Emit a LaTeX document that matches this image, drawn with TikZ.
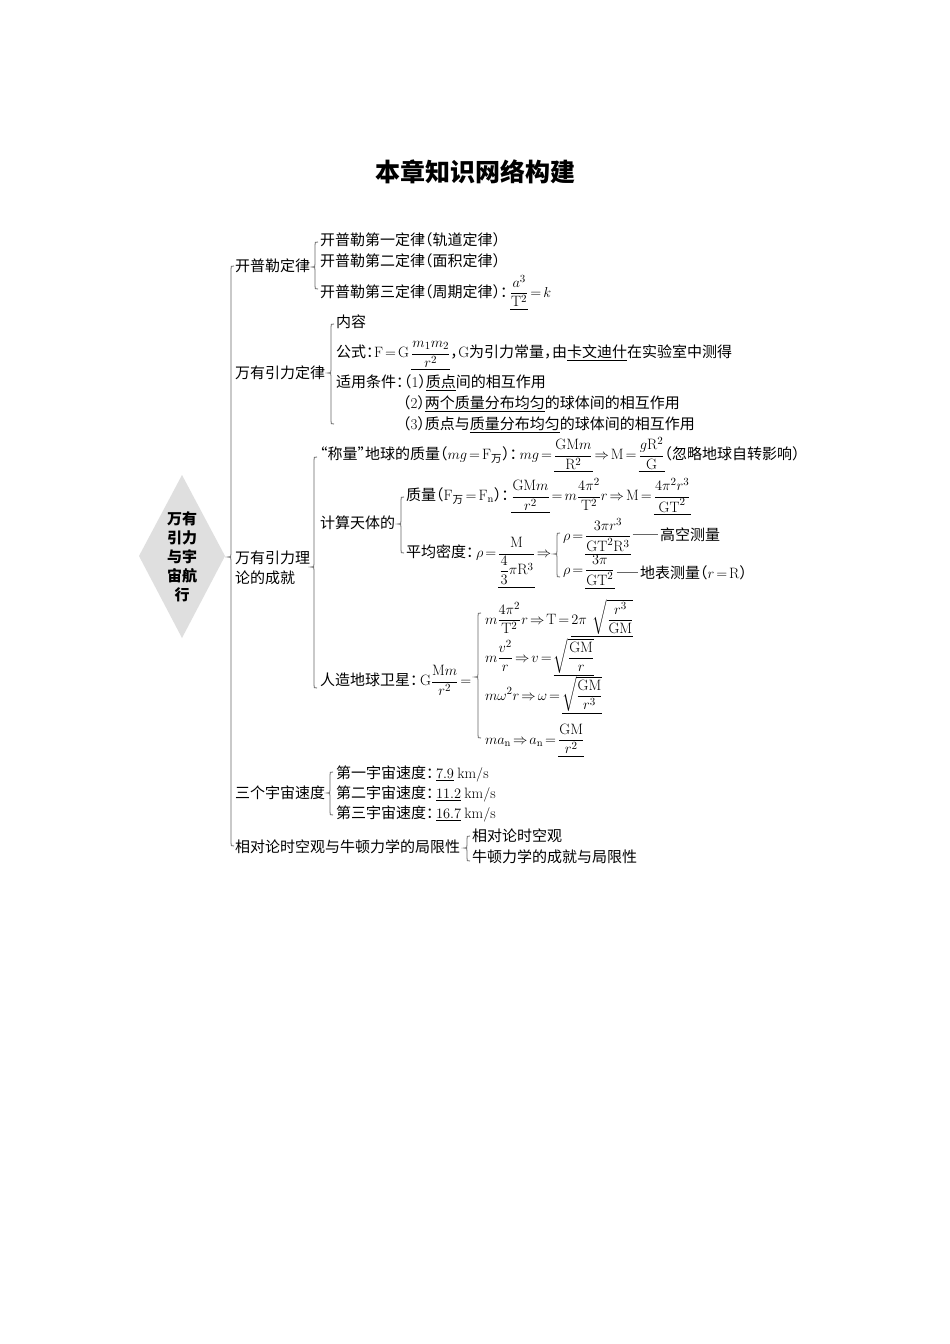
\documentclass[tikz,border=0pt]{standalone}
\usepackage{amsmath}
\usepackage{fontspec}
\newfontfamily\cjk{Noto Sans CJK SC}
\newcommand\lp{\makebox[7.5pt][r]{（}}
\newcommand\rp{\makebox[7.5pt][l]{）}}
\newcommand\lqm{\makebox[7.5pt][r]{“}}
\newcommand\rqm{\makebox[7.5pt][l]{”}}
\newcommand\cln{\makebox[8pt][l]{：}}
\newcommand\clnw{\makebox[10pt][l]{：}}
\newcommand\cma{\makebox[8pt][l]{，}}
\newcommand\dg[1]{{\rmfamily #1}}
\newcommand\rmx[1]{\mathrm{#1}}
\thickmuskip=2.5mu plus 1mu
\medmuskip=2mu plus 1mu
\newcommand\drawbrc[4]{%
  \draw[brcline] (#1+3,#2) .. controls (#1,#2) .. (#1,#2+3) -- (#1,#4-3)
    .. controls (#1,#4) .. (#1-3,#4) .. controls (#1,#4) .. (#1,#4+3)
    -- (#1,#3-3) .. controls (#1,#3) .. (#1+3,#3);}
\begin{document}
\begin{tikzpicture}[x=1pt,y=-1pt,
  txt/.style={anchor=base west, inner sep=0pt, outer sep=0pt, font=\cjk\fontsize{15}{18}\selectfont},
  brcline/.style={draw=black!60, line width=0.8pt},
  dashline/.style={draw=black!60, line width=0.7pt}]
\fill[white] (0,0) rectangle (950,1344);
\useasboundingbox (0,0) rectangle (950,1344);

\node[inner sep=0pt, font=\cjk\bfseries\fontsize{25}{30}\selectfont] (title) at (475,172) {本章知识网络构建};

\fill[gray!25] (182,475) -- (225,556) -- (182,638) -- (139,556) -- cycle;
\node[align=center, inner sep=0pt, font=\cjk\bfseries\fontsize{15}{19}\selectfont] (root) at (182,557) {万有\\引力\\与宇\\宙航\\行};

% main brace
\drawbrc{231}{266}{846}{557}

% level 1
\node[txt] (kepler) at (235,271.5) {开普勒定律};
\node[txt] (law) at (235,378.5) {万有引力定律};
\node[txt] (ach1) at (235,563.5) {万有引力理};
\node[txt] (ach2) at (235,583.5) {论的成就};
\node[txt] (speed) at (235,798.5) {三个宇宙速度};
\node[txt] (rel) at (235,852.5) {相对论时空观与牛顿力学的局限性};

% Kepler
\drawbrc{315}{242}{289}{267}
\node[txt] (k1) at (320,245.5) {开普勒第一定律\lp 轨道定律\rp};
\node[txt] (k2) at (320,266) {开普勒第二定律\lp 面积定律\rp};
\node[txt] (k3) at (320,297) {开普勒第三定律\lp 周期定律\rp\clnw$\underline{\dfrac{a^3}{\rmx{T}^2}}=k$};

% law of gravitation
\drawbrc{331}{324}{424}{373}
\node[txt] (l1) at (336,327.5) {内容};
\node[txt] (l2) at (336,357.5) {公式\cln$\rmx{F}=\rmx{G}\,\underline{\dfrac{m_1m_2}{r^2}}$\cma$\rmx{G}$为引力常量\cma 由\underline{卡文迪什}在实验室中测得};
\node[txt] (l3) at (336,387.5) {适用条件\cln\lp\dg{1}\rp\underline{质点}间的相互作用};
\node[txt] (l4) at (403,408.5) {\lp\dg{2}\rp\underline{两个质量分布均匀}的球体间的相互作用};
\node[txt] (l5) at (403,429.5) {\lp\dg{3}\rp 质点与\underline{质量分布均匀}的球体间的相互作用};

% achievements
\drawbrc{314}{457}{688}{567}
\node[txt] (c1) at (320,459.5) {\lqm 称量\rqm 地球的质量\lp$mg=\rmx{F}_{\text{万}}$\rp\clnw$mg=\underline{\dfrac{\rmx{GM}m}{\rmx{R}^2}}\Rightarrow\rmx{M}=\underline{\dfrac{g\rmx{R}^2}{\rmx{G}}}$\lp 忽略地球自转影响\rp};
\node[txt] (c2) at (320,528.5) {计算天体的};
\drawbrc{401}{497}{553}{524}
\node[txt] (c2a) at (406,500.5) {质量\lp$\rmx{F}_{\text{万}}=\rmx{F}_{\rmx{n}}$\rp\clnw$\underline{\dfrac{\rmx{GM}m}{r^2}}=m\dfrac{4\pi^2}{\rmx{T}^2}r\Rightarrow\rmx{M}=\underline{\dfrac{4\pi^2r^3}{\rmx{GT}^2}}$};
\node[txt] (c2b) at (406,557.5) {平均密度\clnw$\rho=\underline{\dfrac{\rmx{M}}{\dfrac{4}{3}\pi\rmx{R}^3}}\Rightarrow$};
\drawbrc{557}{533}{577}{554}
\node[txt] (rho1) at (563,540) {$\rho=\underline{\dfrac{3\pi r^3}{\rmx{GT}^2\rmx{R}^3}}$};
\node[txt] (gk) at (660,540.5) {高空测量};
\node[txt] (rho2) at (563,574) {$\rho=\underline{\dfrac{3\pi}{\rmx{GT}^2}}$};
\node[txt] (db) at (640,578.5) {地表测量\lp$r=\rmx{R}$\rp};
\draw[dashline] ([xshift=2pt]rho1.east |- gk.west) -- ([xshift=-2pt]gk.west);
\draw[dashline] ([xshift=2pt]rho2.east |- db.west) -- ([xshift=-2pt]db.west);

\node[txt] (c3) at (320,685.5) {人造地球卫星\clnw$\rmx{G}\dfrac{\rmx{M}m}{r^2}=$};
\drawbrc{478}{613}{738}{677}
\node[txt] (s1) at (485,624) {$m\dfrac{4\pi^2}{\rmx{T}^2}r\Rightarrow\rmx{T}=\underline{2\pi\hspace{6pt}\sqrt{\dfrac{r^3}{\rmx{GM}}}}$};
\node[txt] (s2) at (485,662) {$m\dfrac{v^2}{r}\Rightarrow v=\underline{\sqrt{\dfrac{\rmx{GM}}{r}}}$};
\node[txt] (s3) at (485,700) {$m\omega^2r\Rightarrow\omega=\underline{\sqrt{\dfrac{\rmx{GM}}{r^3}}}$};
\node[txt] (s4) at (485,744) {$ma_{\rmx{n}}\Rightarrow a_{\rmx{n}}=\underline{\dfrac{\rmx{GM}}{r^2}}$};

% cosmic speeds
\drawbrc{330}{772}{815}{793}
\node[txt] (v1) at (336,778.5) {第一宇宙速度\clnw$\underline{7.9}\ \rmx{km/s}$};
\node[txt] (v2) at (336,798.5) {第二宇宙速度\clnw$\underline{11.2}\ \rmx{km/s}$};
\node[txt] (v3) at (336,818.5) {第三宇宙速度\clnw$\underline{16.7}\ \rmx{km/s}$};

% relativity
\drawbrc{467}{836}{861}{848}
\node[txt] (r1) at (472,841.5) {相对论时空观};
\node[txt] (r2) at (472,862.5) {牛顿力学的成就与局限性};
\end{tikzpicture}
\end{document}
